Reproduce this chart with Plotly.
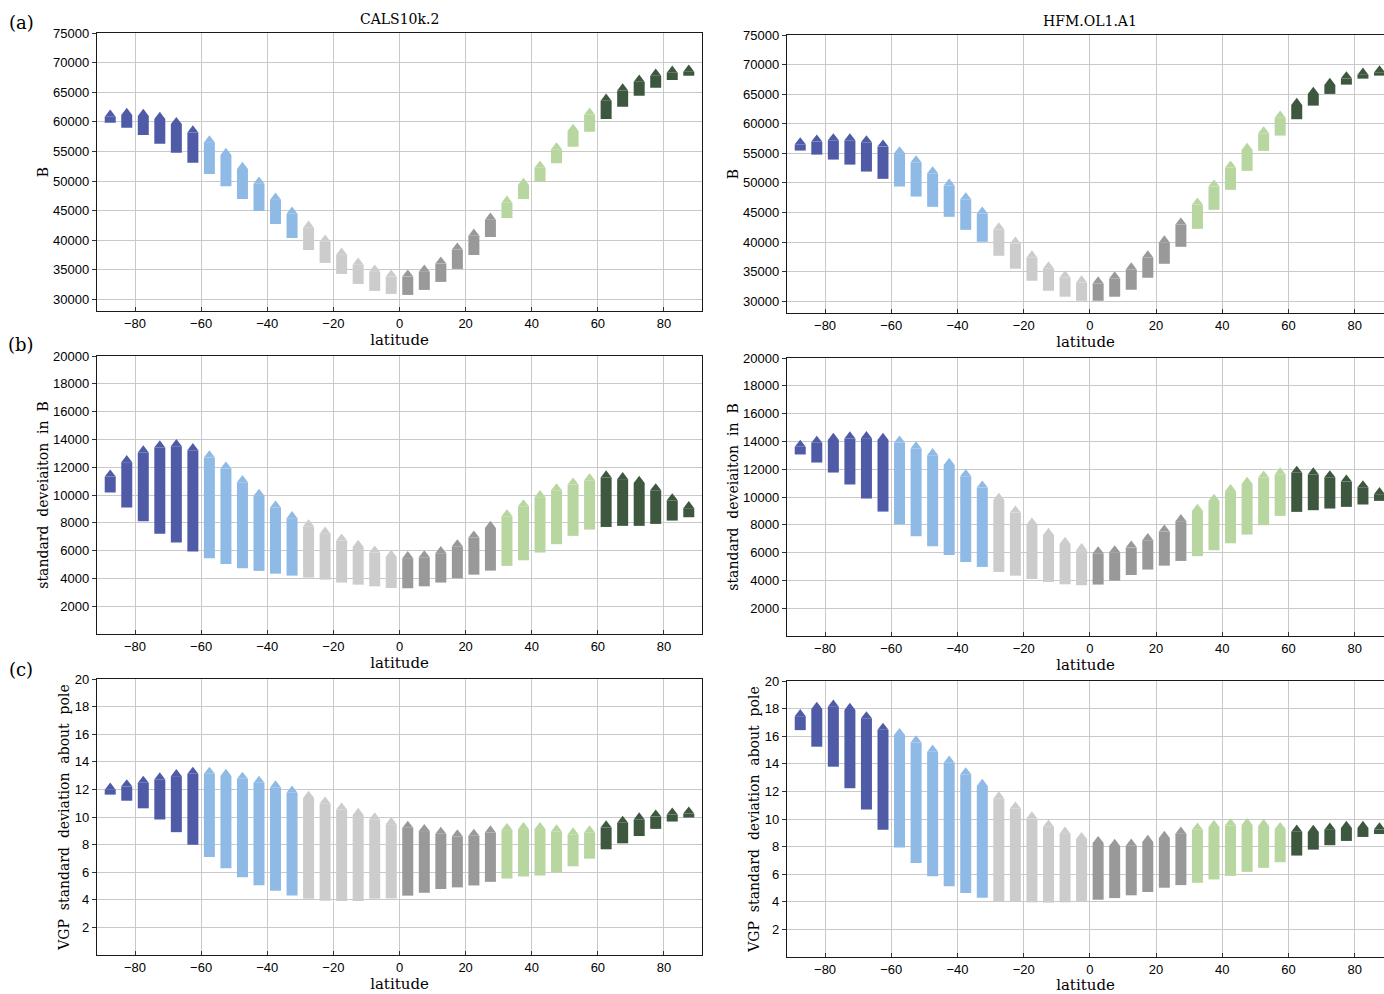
import plotly.graph_objects as go

# ---------------- data ----------------
LAT = [-87.5, -82.5, -77.5, -72.5, -67.5, -62.5, -57.5, -52.5, -47.5, -42.5, -37.5, -32.5,
       -27.5, -22.5, -17.5, -12.5, -7.5, -2.5, 2.5, 7.5, 12.5, 17.5, 22.5, 27.5,
       32.5, 37.5, 42.5, 47.5, 52.5, 57.5, 62.5, 67.5, 72.5, 77.5, 82.5, 87.5]

BAND_COLORS = ["#4F5BA6", "#8FBAE5", "#CCCCCC", "#999999", "#B8D6A0", "#3E5840"]

# (a) field intensity B
B_CALS_HI = [60890, 61180, 61010, 60500, 59650, 58230, 56540, 54410, 52040, 49550, 46850, 44480,
             42110, 39740, 37540, 35850, 34660, 33820, 33820, 34660, 36020, 38390, 40750, 43460,
             46340, 49330, 52260, 55360, 58470, 61230, 63600, 65340, 66810, 67830, 68330, 68500]
B_CALS_LO = [59870, 59030, 57790, 56320, 54800, 53110, 51190, 49110, 46960, 44930, 42730, 40370,
             38330, 36140, 34270, 32580, 31400, 30890, 30720, 31570, 32920, 35120, 37490, 40530,
             43750, 46960, 49890, 53000, 55810, 58350, 60500, 62580, 64440, 65800, 67100, 67830]
B_HFM_HI = [56520, 56980, 57200, 57200, 56860, 56130, 55000, 53480, 51620, 49550, 47230, 44820,
            42120, 39750, 37390, 35530, 34010, 33160, 32990, 33840, 35360, 37390, 39920, 42960,
            46340, 49380, 52590, 55580, 58380, 61030, 63180, 65030, 66560, 67670, 68300, 68680]
B_HFM_LO = [55460, 54780, 53940, 53090, 51910, 50680, 49380, 47690, 45950, 44260, 42060, 40040,
            37670, 35480, 33450, 31760, 30750, 30070, 30070, 30750, 31930, 33960, 36320, 39190,
            42230, 45440, 48820, 52030, 55410, 57990, 60760, 63060, 65040, 66610, 67620, 68130]

# (b) standard deviation in B
SB_CALS_HI = [11330, 12360, 13060, 13420, 13510, 13220, 12700, 11900, 10920, 9940, 9100, 8330,
              7750, 7220, 6720, 6260, 5860, 5540, 5450, 5520, 5810, 6310, 6940, 7630,
              8470, 9190, 9840, 10340, 10750, 11060, 11260, 11140, 10870, 10340, 9620, 9050]
SB_CALS_LO = [10180, 9100, 8110, 7220, 6580, 5930, 5450, 5040, 4730, 4540, 4340, 4200,
              4060, 3910, 3700, 3550, 3430, 3310, 3290, 3430, 3700, 4010, 4270, 4560,
              4900, 5300, 5860, 6460, 7060, 7510, 7700, 7780, 7780, 7920, 8160, 8400]
SB_HFM_HI = [13610, 13900, 14110, 14210, 14230, 14110, 13920, 13490, 13010, 12310, 11500, 10680,
             9790, 8880, 8020, 7270, 6620, 6170, 5950, 6020, 6360, 6890, 7510, 8260,
             9000, 9720, 10420, 10940, 11400, 11620, 11740, 11620, 11420, 11110, 10700, 10200]
SB_HFM_LO = [13060, 12480, 11760, 10900, 9890, 8950, 8040, 7180, 6460, 5830, 5330, 4970,
             4610, 4340, 4100, 3890, 3720, 3650, 3700, 3980, 4390, 4780, 5060, 5400,
             5740, 6170, 6670, 7300, 7970, 8640, 8930, 9050, 9170, 9290, 9460, 9720]

# (c) VGP standard deviation about pole
VGP_CALS_HI = [11.98, 12.22, 12.48, 12.72, 12.96, 13.13, 13.13, 12.98, 12.77, 12.48, 12.14, 11.76,
               11.38, 10.97, 10.54, 10.15, 9.82, 9.48, 9.22, 8.98, 8.78, 8.59, 8.64, 8.88,
               9.05, 9.12, 9.12, 8.95, 8.74, 8.88, 9.24, 9.58, 9.82, 10.03, 10.18, 10.25]
VGP_CALS_LO = [11.62, 11.18, 10.63, 9.82, 8.90, 7.99, 7.10, 6.29, 5.64, 5.06, 4.66, 4.32,
               4.08, 3.94, 3.92, 3.92, 4.08, 4.10, 4.30, 4.51, 4.78, 4.90, 5.04, 5.30,
               5.54, 5.69, 5.76, 6.00, 6.43, 6.98, 7.66, 8.09, 8.62, 9.14, 9.67, 9.96]
VGP_HFM_HI = [17.45, 17.98, 18.14, 17.90, 17.30, 16.46, 16.08, 15.55, 14.88, 14.08, 13.24, 12.40,
              11.49, 10.76, 10.04, 9.44, 8.94, 8.55, 8.26, 8.05, 8.07, 8.34, 8.63, 8.94,
              9.23, 9.42, 9.54, 9.56, 9.49, 9.27, 9.08, 9.06, 9.23, 9.35, 9.35, 9.25]
VGP_HFM_LO = [16.44, 15.24, 13.79, 12.23, 10.69, 9.23, 7.93, 6.82, 5.86, 5.12, 4.63, 4.30,
              4.06, 3.99, 3.96, 3.94, 3.96, 4.01, 4.15, 4.27, 4.47, 4.71, 5.02, 5.21,
              5.38, 5.62, 5.88, 6.17, 6.46, 6.87, 7.35, 7.78, 8.10, 8.41, 8.70, 8.91]

X_TICKS = [-80, -60, -40, -20, 0, 20, 40, 60, 80]
Y_TICKS_B = [30000, 35000, 40000, 45000, 50000, 55000, 60000, 65000, 70000, 75000]
Y_TICKS_SB = [2000, 4000, 6000, 8000, 10000, 12000, 14000, 16000, 18000, 20000]
Y_TICKS_VGP = [2, 4, 6, 8, 10, 12, 14, 16, 18, 20]

MODEL_TITLES = ["CALS10k.2", "HFM.OL1.A1"]
PANEL_LETTERS = ["(a)", "(b)", "(c)"]
Y_TITLES = ["B", "standard  deveiaiton  in  B", "VGP  standard  deviation  about  pole"]

panels = [
    (B_CALS_HI, B_CALS_LO), (B_HFM_HI, B_HFM_LO),
    (SB_CALS_HI, SB_CALS_LO), (SB_HFM_HI, SB_HFM_LO),
    (VGP_CALS_HI, VGP_CALS_LO), (VGP_HFM_HI, VGP_HFM_LO),
]
y_ranges = [[28000, 75000], [0, 20000], [0, 20]]
y_ticks = [Y_TICKS_B, Y_TICKS_SB, Y_TICKS_VGP]

# ---------------- layout geometry ----------------
W, H = 1384, 994
# pixel boxes (left, top, right, bottom) per panel
boxes = [
    (97, 33.3, 702, 311), (787, 35, 1384, 313),
    (97, 356, 702, 634), (787, 358, 1384, 636),
    (97, 679, 702, 955), (787, 681, 1384, 957),
]

MSIZE = 9.5
BODY_W = 11

fig = go.Figure()
for p, (hi, lo) in enumerate(panels):
    sfx = "" if p == 0 else str(p + 1)
    for band in range(6):
        c = BAND_COLORS[band]
        idx = list(range(band * 6, band * 6 + 6))
        xs, ys = [], []
        for i in idx:
            xs += [LAT[i], LAT[i], None]
            ys += [lo[i], hi[i], None]
        fig.add_trace(go.Scatter(x=xs, y=ys, mode="lines", connectgaps=False,
                                 line=dict(color=c, width=BODY_W),
                                 xaxis="x" + sfx, yaxis="y" + sfx,
                                 hoverinfo="skip", showlegend=False))
        fig.add_trace(go.Scatter(x=[LAT[i] for i in idx], y=[hi[i] for i in idx],
                                 mode="markers",
                                 marker=dict(symbol="triangle-down", angle=180,
                                             standoff=MSIZE / 4, size=MSIZE, color=c,
                                             line=dict(width=0)),
                                 xaxis="x" + sfx, yaxis="y" + sfx,
                                 hoverinfo="skip", showlegend=False))

tickfont = dict(family="Liberation Sans, Arial, sans-serif", size=13, color="#000")
serif = "DejaVu Serif, Liberation Serif, serif"
layout = dict(
    width=W, height=H, margin=dict(l=0, r=0, t=0, b=0, autoexpand=False),
    paper_bgcolor="white", plot_bgcolor="white",
    showlegend=False,
)
for p in range(6):
    sfx = "" if p == 0 else str(p + 1)
    row, col = p // 2, p % 2
    l, t, r, b = boxes[p]
    xdom = [l / W, min(r / W, 1.0)]
    ydom = [1 - b / H, 1 - t / H]
    xr = [-91.5, 91.5] if col == 0 else [-91.5, -91.5 + (r - l) / 3.31]
    layout["xaxis" + sfx] = dict(
        domain=xdom, range=xr, anchor="y" + sfx, automargin=False,
        tickvals=X_TICKS, ticks="inside", ticklen=4, tickwidth=1, tickcolor="#333",
        showline=True, linecolor="#1a1a1a", linewidth=1.3, mirror=True,
        showgrid=True, gridcolor="#C9C9C9", gridwidth=1, zeroline=False,
        tickfont=tickfont,
        title=dict(text="latitude", font=dict(family=serif, size=15, color="#000"), standoff=2),
    )
    layout["yaxis" + sfx] = dict(
        domain=ydom, range=y_ranges[row], anchor="x" + sfx, automargin=False,
        tickvals=y_ticks[row], tickformat="d", ticks="outside", ticklen=4, tickwidth=1,
        tickcolor="#333",
        showline=True, linecolor="#1a1a1a", linewidth=1.3, mirror=(col == 0),
        showgrid=True, gridcolor="#C9C9C9", gridwidth=1, zeroline=False,
        tickfont=tickfont,
        title=dict(text=Y_TITLES[row], font=dict(family=serif, size=14, color="#000"), standoff=1),
    )

annotations = []
for col, txt in enumerate(MODEL_TITLES):
    cx = 399 if col == 0 else 1090
    cy = 19 if col == 0 else 21
    annotations.append(dict(text=txt, x=cx / W, y=1 - cy / H, xref="paper", yref="paper",
                            xanchor="center", yanchor="middle", showarrow=False,
                            font=dict(family=serif, size=14, color="#000")))
for row, txt in enumerate(PANEL_LETTERS):
    cy = [22, 344, 669][row]
    annotations.append(dict(text=txt, x=21 / W, y=1 - cy / H, xref="paper", yref="paper",
                            xanchor="center", yanchor="middle", showarrow=False,
                            font=dict(family=serif, size=18, color="#000")))
layout["annotations"] = annotations

fig.update_layout(**layout)
fig.write_html("out.html")
